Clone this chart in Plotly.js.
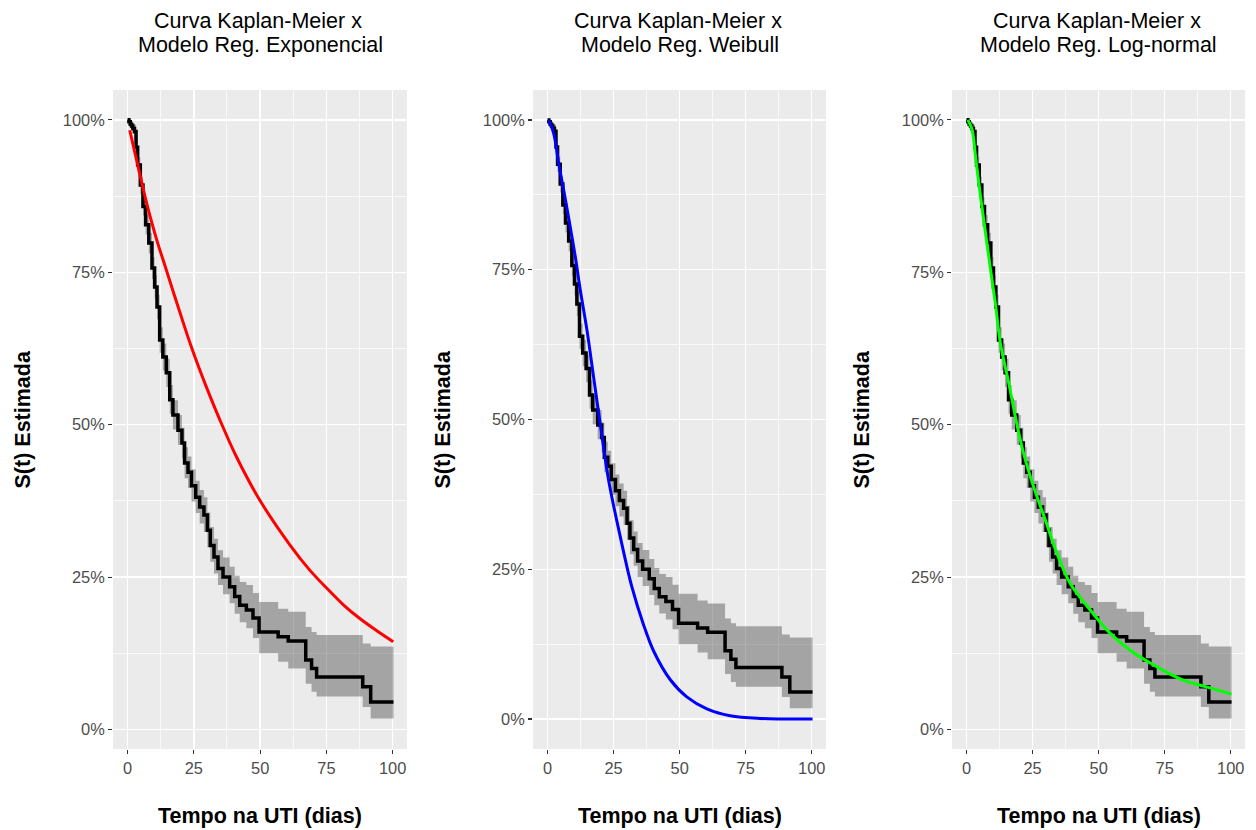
<!DOCTYPE html>
<html>
<head>
<meta charset="utf-8">
<script src="https://cdn.plot.ly/plotly-3.0.1.min.js"></script>
<style>html,body{margin:0;padding:0;background:#fff;}#chart{width:1256px;height:830px;}</style>
</head>
<body>
<div id="chart"></div>
<script>
// ---- Kaplan-Meier estimate (step function) and its confidence band ----
const kmTime  = [0, 0.5, 1, 1.5, 2, 2.6, 3.2, 3.8, 4.8, 5.8, 6.8, 8.0, 9.2, 10.2, 11.1, 12.1, 13.3, 14.6, 15.9, 17.1, 19.0, 20.5, 21.5, 22.8, 24.1, 25.7, 27.2, 28.8, 30.1, 31.2, 32.6, 34.1, 36.0, 38.5, 40.4, 42.3, 44.8, 47.3, 49.6, 56.8, 60.6, 67.2, 69.4, 71.3, 88.7, 91.7, 100.3];
const kmSurv  = [1.0, 0.997, 0.993, 0.99, 0.986, 0.981, 0.955, 0.926, 0.893, 0.858, 0.828, 0.798, 0.757, 0.726, 0.693, 0.639, 0.611, 0.585, 0.541, 0.516, 0.491, 0.470, 0.437, 0.422, 0.400, 0.381, 0.365, 0.352, 0.327, 0.302, 0.283, 0.264, 0.250, 0.234, 0.218, 0.204, 0.196, 0.183, 0.160, 0.152, 0.145, 0.114, 0.100, 0.086, 0.070, 0.045, 0.045];
const kmLower = [1.0, 0.992, 0.986, 0.982, 0.977, 0.970, 0.943, 0.913, 0.879, 0.843, 0.812, 0.781, 0.739, 0.707, 0.673, 0.618, 0.589, 0.562, 0.518, 0.492, 0.467, 0.445, 0.412, 0.396, 0.374, 0.355, 0.338, 0.324, 0.299, 0.275, 0.256, 0.237, 0.222, 0.207, 0.190, 0.176, 0.166, 0.150, 0.125, 0.111, 0.100, 0.075, 0.062, 0.054, 0.037, 0.018, 0.018];
const kmUpper = [1.0, 1.0, 1.0, 0.998, 0.995, 0.992, 0.967, 0.939, 0.907, 0.873, 0.844, 0.815, 0.775, 0.745, 0.713, 0.660, 0.633, 0.608, 0.565, 0.540, 0.516, 0.495, 0.463, 0.448, 0.427, 0.408, 0.393, 0.381, 0.356, 0.332, 0.313, 0.294, 0.282, 0.267, 0.252, 0.242, 0.237, 0.224, 0.209, 0.198, 0.193, 0.168, 0.160, 0.155, 0.141, 0.136, 0.136];

// ---- Exponential regression model ----
const expTime = [0.8, 3.3, 5.2, 7.1, 10.8, 14.6, 19.6, 24.1, 29.7, 34.8, 41.1, 49.9, 61.2, 68.8, 75.1, 81.3, 87.6, 94.0, 100.2];
const expSurv = [0.983, 0.936, 0.900, 0.865, 0.806, 0.754, 0.686, 0.627, 0.562, 0.508, 0.447, 0.376, 0.303, 0.261, 0.232, 0.205, 0.182, 0.162, 0.144];

// ---- Weibull regression model ----
const weiTime = [0.4, 2.3, 4.2, 6.1, 7.9, 10.5, 12.4, 14.9, 17.4, 20.2, 23.1, 27.5, 31.9, 36.3, 40.1, 46.4, 52.7, 60.3, 69.1, 80.4, 100.3];
const weiSurv = [1.0, 0.978, 0.928, 0.883, 0.839, 0.772, 0.716, 0.650, 0.572, 0.485, 0.399, 0.305, 0.221, 0.158, 0.114, 0.066, 0.037, 0.017, 0.0055, 0.001, 0.0];

// ---- Log-normal regression model ----
const lnTime = [0.5, 2.1, 3.4, 5.3, 7.2, 9.1, 10.9, 12.8, 16, 19, 21.6, 25.4, 29.8, 34.2, 39.2, 46.8, 54.3, 61.9, 72, 82, 90.8, 100.3];
const lnSurv = [1.0, 0.984, 0.940, 0.874, 0.814, 0.754, 0.699, 0.634, 0.568, 0.502, 0.453, 0.398, 0.344, 0.289, 0.240, 0.196, 0.158, 0.130, 0.103, 0.081, 0.070, 0.058];

// ---- labels ----
const titleLine1 = "Curva Kaplan-Meier x";
const titleLine2 = ["Modelo Reg. Exponencial", "Modelo Reg. Weibull", "Modelo Reg. Log-normal"];
const xAxisTitle = "Tempo na UTI (dias)";
const yAxisTitle = "S(t) Estimada";
const xTickVals = [0, 25, 50, 75, 100];
const xTickText = ["0", "25", "50", "75", "100"];
const xMinorVals = [12.5, 37.5, 62.5, 87.5];
const yTickVals = [0, 0.25, 0.5, 0.75, 1];
const yTickText = ["0%", "25%", "50%", "75%", "100%"];
const yMinorVals = [0.125, 0.375, 0.625, 0.875];

const W = 1256, H = 830;
const FONT = "Liberation Sans, Arial, Helvetica, sans-serif";
const fx = p => p / W;
const fy = p => 1 - p / H;

const panels = [
  {left: 113, right: 407, yr: [-0.032, 1.049], mx: expTime, my: expSurv, color: "#FF0000"},
  {left: 533, right: 826, yr: [-0.05, 1.05],  mx: weiTime, my: weiSurv, color: "#0000FF"},
  {left: 952, right: 1245, yr: [-0.032, 1.049], mx: lnTime, my: lnSurv, color: "#00FF00"}
];
const panelTop = 90, panelBottom = 749;

const traces = [];
const layout = {
  width: W, height: H,
  margin: {l: 0, r: 0, t: 0, b: 0},
  paper_bgcolor: "#FFFFFF",
  plot_bgcolor: "#EBEBEB",
  showlegend: false,
  font: {family: FONT},
  annotations: []
};

panels.forEach((p, i) => {
  const n = i === 0 ? "" : String(i + 1);
  const xa = "x" + n, ya = "y" + n;
  traces.push({x: kmTime, y: kmLower, xaxis: xa, yaxis: ya, mode: "lines",
    line: {shape: "hv", width: 0, color: "rgba(0,0,0,0)"}, hoverinfo: "skip"});
  traces.push({x: kmTime, y: kmUpper, xaxis: xa, yaxis: ya, mode: "lines",
    line: {shape: "hv", width: 0, color: "rgba(0,0,0,0)"}, fill: "tonexty",
    fillcolor: "rgba(0,0,0,0.3)", hoverinfo: "skip"});
  traces.push({x: kmTime, y: kmSurv, xaxis: xa, yaxis: ya, mode: "lines",
    line: {shape: "hv", width: 3.5, color: "#000000"}});
  traces.push({x: p.mx, y: p.my, xaxis: xa, yaxis: ya, mode: "lines",
    line: {shape: "spline", smoothing: 1, width: 3, color: p.color}});

  const common = {
    showgrid: true, gridcolor: "#FFFFFF", gridwidth: 1.4,
    zeroline: false, showline: false,
    ticks: "outside", ticklen: 4, tickwidth: 1.1, tickcolor: "#333333",
    tickfont: {family: FONT, size: 16.4, color: "#4D4D4D"},
    fixedrange: true, automargin: false
  };
  layout["xaxis" + n] = Object.assign({}, common, {
    domain: [fx(p.left), fx(p.right)], range: [-5.5, 105.4], anchor: ya,
    tickmode: "array", tickvals: xTickVals, ticktext: xTickText,
    minor: {tickmode: "array", tickvals: xMinorVals, showgrid: true, gridcolor: "#FFFFFF", gridwidth: 0.7, ticks: ""}
  });
  layout["yaxis" + n] = Object.assign({}, common, {
    domain: [fy(panelBottom), fy(panelTop)], range: p.yr, anchor: xa,
    tickmode: "array", tickvals: yTickVals, ticktext: yTickText,
    minor: {tickmode: "array", tickvals: yMinorVals, showgrid: true, gridcolor: "#FFFFFF", gridwidth: 0.7, ticks: ""}
  });

  const cx = (p.left + p.right) / 2;
  layout.annotations.push({xref: "paper", yref: "paper", x: fx(cx - 2), y: fy(21), text: titleLine1,
    showarrow: false, xanchor: "center", yanchor: "middle", font: {family: FONT, size: 21.5, color: "#000000"}});
  layout.annotations.push({xref: "paper", yref: "paper", x: fx(cx), y: fy(45), text: titleLine2[i],
    showarrow: false, xanchor: "center", yanchor: "middle", font: {family: FONT, size: 21.5, color: "#000000"}});
  layout.annotations.push({xref: "paper", yref: "paper", x: fx(cx), y: fy(816), text: "<b>" + xAxisTitle + "</b>",
    showarrow: false, xanchor: "center", yanchor: "middle", font: {family: FONT, size: 21.5, color: "#000000"}});
  layout.annotations.push({xref: "paper", yref: "paper", x: fx(p.left - 91), y: fy((panelTop + panelBottom) / 2),
    text: "<b>" + yAxisTitle + "</b>", textangle: -90,
    showarrow: false, xanchor: "center", yanchor: "middle", font: {family: FONT, size: 21.5, color: "#000000"}});
});

Plotly.newPlot("chart", traces, layout, {displayModeBar: false, staticPlot: true});
</script>
</body>
</html>
